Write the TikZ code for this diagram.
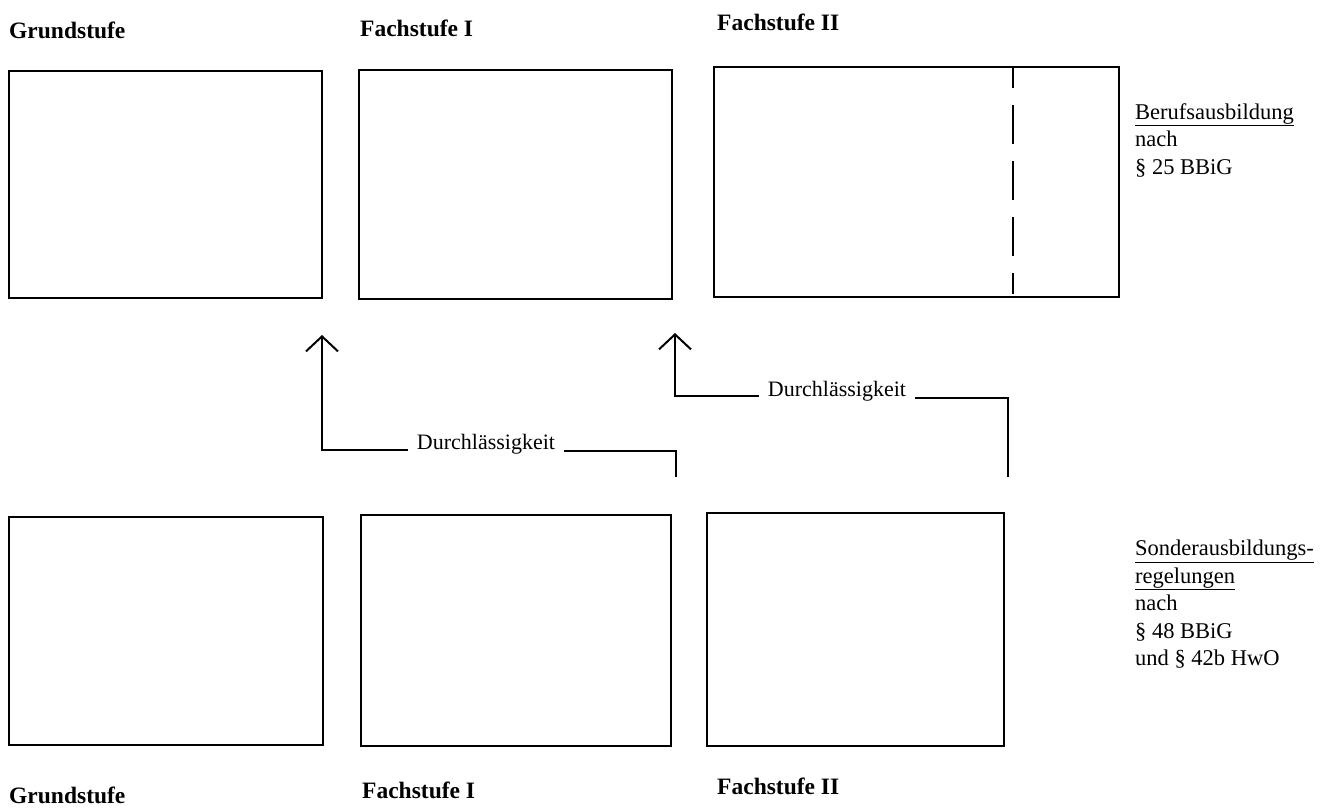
\documentclass[tikz,border=0pt]{standalone}
\usepackage{fontspec}
\setmainfont{Liberation Serif}
\usetikzlibrary{arrows.meta}
\begin{document}
\begin{tikzpicture}[x=1pt,y=-1pt,
  stage/.style={draw=black,line width=2pt,inner sep=0pt,anchor=north west},
  head/.style={anchor=base west,inner sep=0pt,font=\fontsize{23.5}{27}\selectfont\bfseries},
  side/.style={anchor=north west,inner sep=0pt,align=left,font=\fontsize{22.5}{27.5}\selectfont},
  flow/.style={draw=black,line width=2pt},
  tip/.style={-{Straight Barb[length=15pt,width=32pt]}},
  perm/.style={inner xsep=9pt,inner ysep=0pt,font=\fontsize{22}{26}\selectfont}]
\useasboundingbox (0,0) rectangle (1329,807);

% upper row: Berufsausbildung
\node[stage,minimum width=313pt,minimum height=227pt] (u1) at (8,70) {};
\node[stage,minimum width=313pt,minimum height=229pt] (u2) at (358,69) {};
\node[stage,minimum width=405pt,minimum height=230pt] (u3) at (713,66) {};
\draw[line width=1.8pt,dash pattern=on 39pt off 17pt,dash phase=18pt]
  ([xshift=300pt,yshift=-1pt]u3.north west) -- ([xshift=300pt,yshift=4pt]u3.south west);

% lower row: Sonderausbildungsregelungen
\node[stage,minimum width=314pt,minimum height=228pt] (l1) at (8,516) {};
\node[stage,minimum width=310pt,minimum height=231pt] (l2) at (360,514) {};
\node[stage,minimum width=297pt,minimum height=233pt] (l3) at (706,512) {};

% stage headings
\node[head] (hu1) at (9,38) {Grundstufe};
\node[head] (hu2) at (360,36) {Fachstufe I};
\node[head] (hu3) at (717,30) {Fachstufe II};
\node[head] (hl1) at (9,803) {Grundstufe};
\node[head] (hl2) at (362,798) {Fachstufe I};
\node[head] (hl3) at (717,794) {Fachstufe II};

% legal basis
\node[side] (ru) at (1135,103) {\underline{Berufsausbildung}\\nach\\\S\ 25 BBiG};
\node[side] (rl) at (1135,540) {\underline{Sonderausbildungs-}\\\underline{regelungen}\\nach\\\S\ 48 BBiG\\und \S\ 42b HwO};

% permeability links
\node[perm,anchor=base] (d1) at (486,449) {Durchlässigkeit};
\node[perm,anchor=base] (d2) at (837,396) {Durchlässigkeit};
\coordinate (s1) at (676,477);
\coordinate (t1) at (322,335);
\coordinate (s2) at (1008,477);
\coordinate (t2) at (675,333);

\draw[flow] (s1) |- ([yshift=-2pt]d1.base east);
\draw[flow,tip] ([yshift=-1pt]d1.base west) -| (t1);
\draw[flow] (s2) |- ([yshift=-2pt]d2.base east);
\draw[flow,tip] ([yshift=0pt]d2.base west) -| (t2);
\end{tikzpicture}
\end{document}
